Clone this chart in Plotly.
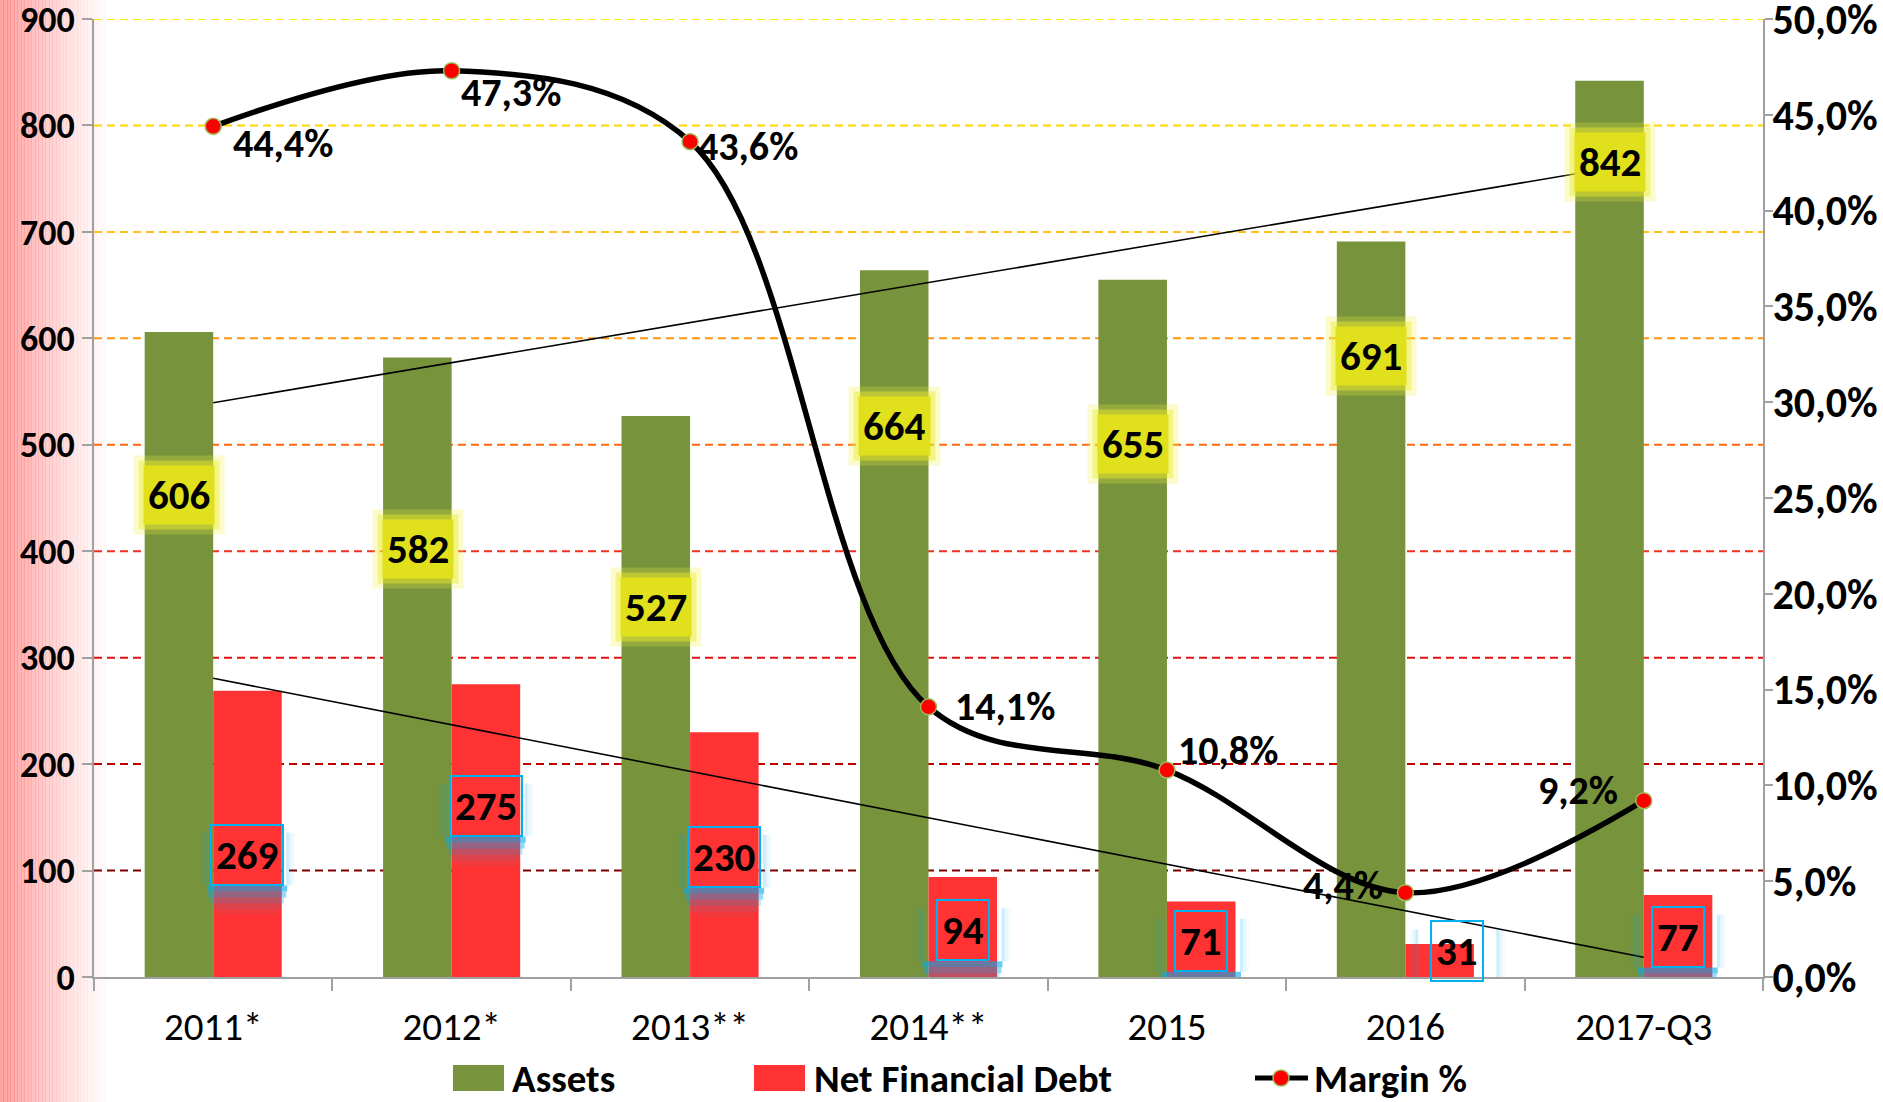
import numpy as np
import plotly.graph_objects as go

# ---------------- data ----------------
categories = ["2011*", "2012*", "2013**", "2014**", "2015", "2016", "2017-Q3"]
assets = [606, 582, 527, 664, 655, 691, 842]
net_debt = [269, 275, 230, 94, 71, 31, 77]
margin = [0.444, 0.473, 0.436, 0.141, 0.108, 0.044, 0.092]
left_ticks = [0, 100, 200, 300, 400, 500, 600, 700, 800, 900]
right_ticks = [0.0, 0.05, 0.10, 0.15, 0.20, 0.25, 0.30, 0.35, 0.40, 0.45, 0.50]

# label placement (style only)
assets_label_y = [453, 402, 348, 518, 501, 583, 766]
debt_label_y = [115, 161, 113, 44, 34, 24, 38]
debt_label_dx = [0, 0, 0, 0, 0, 18, 0]
margin_label_dx = [70, 59, 58, 76, 61, -62, -66]
margin_label_dy = [-17, -22, -5, 0, 20, 7, 10]

grid_colors = {100: "#7F0000", 200: "#C00000", 300: "#E01010", 400: "#F03020",
               500: "#FF6A10", 600: "#FF9410", 700: "#FFC020", 800: "#FFD500",
               900: "#FFEA00"}

W, H = 1883, 1102
L, R, T, B = 94, 120, 19, 125
PW, PH = W - L - R, H - T - B

FONT = "Carlito, 'Liberation Sans Narrow', 'Arial Narrow', sans-serif"
GREEN = "#77933C"
RED = "#FF3333"
AXIS = "#A0A0A0"
LBL = 41


def px_x(px):
    return (px - L) / PW


def px_y(py):
    return (H - B - py) / PH


fig = go.Figure()

fig.add_trace(go.Bar(x=categories, y=assets, name="Assets", marker_color=GREEN,
                     marker_line_width=0, showlegend=False))
fig.add_trace(go.Bar(x=categories, y=net_debt, name="Net Financial Debt", marker_color=RED,
                     marker_line_width=0, showlegend=False))

idx = np.arange(len(categories))
for series in (assets, net_debt):
    k, b0 = np.polyfit(idx, series, 1)
    fig.add_trace(go.Scatter(x=categories, y=k * idx + b0, mode="lines",
                             line=dict(color="black", width=1.6), showlegend=False,
                             hoverinfo="skip"))

fig.add_trace(go.Scatter(x=categories, y=margin, yaxis="y2", mode="lines+markers",
                         name="Margin %", showlegend=False,
                         line=dict(color="black", width=5.5, shape="spline", smoothing=1.0),
                         marker=dict(color="#FF0000", size=16,
                                     line=dict(color="#9BBB59", width=1.5))))

shapes = []
# left pink gradient
n = 32
strip = 3.5
for i in range(n):
    t = i / n
    a = 0.48 * (1 - t) ** 1.3
    shapes.append(dict(type="rect", xref="paper", yref="paper",
                       x0=px_x(i * strip), x1=px_x((i + 1) * strip + 0.5),
                       y0=px_y(H), y1=px_y(0), line_width=0,
                       fillcolor=f"rgba(255,60,60,{a:.3f})", layer="below"))
# dashed gridlines
for v, c in grid_colors.items():
    shapes.append(dict(type="line", xref="paper", yref="y", x0=0, x1=1, y0=v, y1=v,
                       line=dict(color=c, width=2, dash="8px,5px"), layer="below"))

# blue glow around/below debt label boxes (pixel-sized shapes anchored at label centre)
glow_bands = [(-31, -37, 40, 0.60), (-37, -43, 39, 0.42), (-43, -49, 37, 0.26),
              (-49, -55, 34, 0.13), (-55, -60, 30, 0.06)]
for i, v in enumerate(net_debt):
    cx = 34 + debt_label_dx[i]
    for (top, bot, half, alpha) in glow_bands:
        shapes.append(dict(type="rect", xref="x", yref="y", xsizemode="pixel",
                           ysizemode="pixel", xanchor=i, yanchor=debt_label_y[i],
                           x0=cx - half, x1=cx + half, y0=bot, y1=top, line_width=0,
                           fillcolor=f"rgba(0,170,240,{alpha})", layer="above"))
    for side in (-1, 1):
        for k2, alpha in enumerate((0.20, 0.10, 0.04)):
            xa = cx + side * (39 + 3 * k2)
            xb = cx + side * (39 + 3 * (k2 + 1))
            shapes.append(dict(type="rect", xref="x", yref="y", xsizemode="pixel",
                               ysizemode="pixel", xanchor=i, yanchor=debt_label_y[i],
                               x0=min(xa, xb), x1=max(xa, xb), y0=-31, y1=22, line_width=0,
                               fillcolor=f"rgba(0,170,240,{alpha})", layer="above"))

annotations = []
# assets labels (yellow glowing boxes)
for i, v in enumerate(assets):
    for pad, col in ((14, "rgba(240,240,60,0.25)"), (9, "rgba(235,235,40,0.45)")):
        annotations.append(dict(x=i, y=assets_label_y[i], xref="x", yref="y",
                                text=str(v), showarrow=False, xshift=-34,
                                font=dict(family=FONT, size=LBL, color="rgba(0,0,0,0)"),
                                bgcolor=col, borderpad=pad))
    annotations.append(dict(x=i, y=assets_label_y[i], xref="x", yref="y",
                            text=f"<b>{v}</b>", showarrow=False, xshift=-34,
                            font=dict(family=FONT, size=LBL, color="black"),
                            bgcolor="#E0E01C", borderpad=4))
# debt labels (blue bordered boxes)
for i, v in enumerate(net_debt):
    annotations.append(dict(x=i, y=debt_label_y[i], xref="x", yref="y",
                            text=f"<b>{v}</b>", showarrow=False, xshift=34 + debt_label_dx[i],
                            font=dict(family=FONT, size=LBL, color="black"),
                            bordercolor="#00B0F0", borderwidth=2, borderpad=4))
# margin labels
for i, v in enumerate(margin):
    txt = f"{v * 100:.1f}%".replace(".", ",")
    annotations.append(dict(x=i, y=v, xref="x", yref="y2", text=f"<b>{txt}</b>",
                            showarrow=False, xshift=margin_label_dx[i],
                            yshift=margin_label_dy[i],
                            font=dict(family=FONT, size=40, color="black")))

# custom legend
leg_y = 1078
legend_items = [("Assets", GREEN, 453, 510), ("Net Financial Debt", RED, 754, 812)]
for name, col, x0, tx in legend_items:
    shapes.append(dict(type="rect", xref="paper", yref="paper", x0=px_x(x0), x1=px_x(x0 + 51),
                       y0=px_y(leg_y + 13), y1=px_y(leg_y - 13), fillcolor=col, line_width=0))
    annotations.append(dict(x=px_x(tx), y=px_y(leg_y), xref="paper", yref="paper",
                            xanchor="left", yanchor="middle", showarrow=False,
                            text=f"<b>{name}</b>", font=dict(family=FONT, size=39, color="black")))
shapes.append(dict(type="line", xref="paper", yref="paper", x0=px_x(1255), x1=px_x(1308),
                   y0=px_y(leg_y), y1=px_y(leg_y), line=dict(color="black", width=5)))
shapes.append(dict(type="circle", xref="paper", yref="paper",
                   x0=px_x(1273), x1=px_x(1289), y0=px_y(leg_y + 8), y1=px_y(leg_y - 8),
                   fillcolor="#FF0000", line=dict(color="#9BBB59", width=1.5)))
annotations.append(dict(x=px_x(1312), y=px_y(leg_y), xref="paper", yref="paper",
                        xanchor="left", yanchor="middle", showarrow=False,
                        text="<b>Margin %</b>", font=dict(family=FONT, size=39, color="black")))

fig.update_layout(
    width=W, height=H,
    margin=dict(l=L, r=R, t=T, b=B, autoexpand=False),
    paper_bgcolor="white", plot_bgcolor="rgba(0,0,0,0)",
    barmode="group", bargap=0.425, bargroupgap=0,
    separators=",.",
    showlegend=False,
    xaxis=dict(type="category", categoryorder="array", categoryarray=categories,
               range=[-0.5, len(categories) - 0.5],
               showgrid=False, showline=True, linecolor=AXIS, linewidth=2,
               ticks="outside", tickson="boundaries", ticklen=12, tickcolor=AXIS, tickwidth=2,
               ticklabelstandoff=14, tickangle=0,
               tickfont=dict(family=FONT, size=39, color="black"), zeroline=False),
    yaxis=dict(range=[0, 900.01], tickvals=left_ticks, showgrid=False, zeroline=False,
               showline=True, linecolor=AXIS, linewidth=2, ticks="outside", ticklen=10,
               tickcolor=AXIS, tickwidth=2, ticklabeloverflow="allow",
               tickfont=dict(family=FONT, size=36, color="black", weight="bold")),
    yaxis2=dict(range=[0, 0.50001], tickvals=right_ticks, tickformat=".1%", overlaying="y",
                side="right", showgrid=False, zeroline=False, showline=True, linecolor=AXIS,
                linewidth=2, ticks="outside", ticklen=8, tickcolor=AXIS, tickwidth=2,
                ticklabeloverflow="allow", ticklabelstandoff=-9,
                tickfont=dict(family=FONT, size=42, color="black", weight="bold")),
    shapes=shapes,
    annotations=annotations,
)

fig.write_html("out.html", post_script="document.body.style.margin='0';",
               config={"displayModeBar": False})
